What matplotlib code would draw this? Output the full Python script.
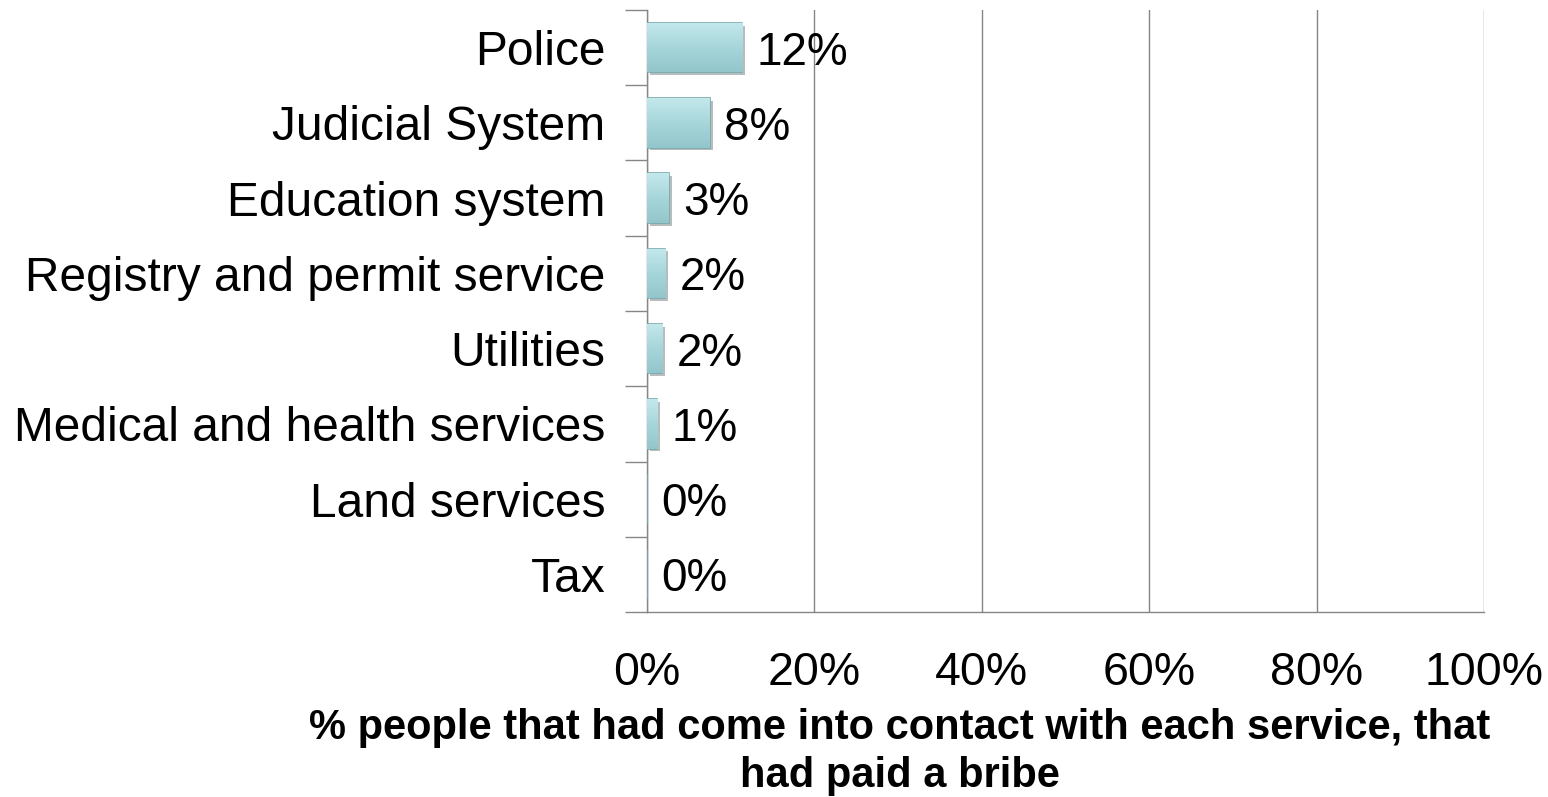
import matplotlib.pyplot as plt
import matplotlib.patheffects as pe
import numpy as np

# data
services = ["Police", "Judicial System", "Education system",
            "Registry and permit service", "Utilities",
            "Medical and health services", "Land services", "Tax"]
bribe_share = [11.4, 7.5, 2.6, 2.2, 1.8, 1.2, 0.0, 0.0]
bar_labels = ["12%", "8%", "3%", "2%", "2%", "1%", "0%", "0%"]
x_ticks = [0, 20, 40, 60, 80, 100]
x_title = "% people that had come into contact with each service, that\nhad paid a bribe"

plt.rcParams['font.family'] = ['Liberation Sans', 'DejaVu Sans']

fig = plt.figure(figsize=(15.48, 7.97), dpi=100)
ax = fig.add_axes([0.418, 0.2321, 0.9587 - 0.418, 0.9875 - 0.2321])

y = np.arange(len(services))
bars = ax.barh(y, bribe_share, height=0.66, color='#A9D9DD',
               edgecolor='#76A9AE', linewidth=1.2, zorder=3)

# soft gradient inside each bar to hint at the bevel look
bevel = plt.matplotlib.colors.LinearSegmentedColormap.from_list(
    'bev', ['#C4E8EC', '#A6D6DA', '#93C6CB'])
grad = np.linspace(0, 1, 64).reshape(-1, 1)
for b in bars:
    b.set_path_effects([pe.SimplePatchShadow(offset=(2, -2), alpha=0.35), pe.Normal()])
    if b.get_width() > 0:
        x0, y0 = b.get_x(), b.get_y()
        w, h = b.get_width(), b.get_height()
        im = ax.imshow(grad, cmap=bevel, extent=[x0, x0 + w, y0 + h, y0],
                       aspect='auto', zorder=3.5)
        im.set_clip_path(b)

for yi, v, lab in zip(y, bribe_share, bar_labels):
    ax.text(v + 1.7, yi, lab, va='center_baseline', ha='left', fontsize=33,
            color='black', zorder=4)

ax.set_xlim(0, 100)
ax.set_ylim(len(services) - 0.5, -0.5)
ax.set_xticks(x_ticks)
ax.set_xticklabels([f"{t}%" for t in x_ticks], fontsize=33.5)
ax.set_yticks(y)
ax.set_yticklabels(services, fontsize=34.5)
ax.tick_params(axis='y', length=0, pad=30)
ax.tick_params(axis='x', length=0, pad=28)

# boundary ticks on the y axis, tick marks under the x axis
ax.set_yticks(np.arange(len(services) + 1) - 0.5, minor=True)
ax.tick_params(axis='y', which='minor', length=16, color='#868686', width=1)
ax.set_xticks(x_ticks, minor=True)
ax.tick_params(axis='x', which='minor', length=14, color='#868686', width=1)

ax.grid(axis='x', color='#868686', linewidth=1, zorder=0)
for s in ['top', 'right']:
    ax.spines[s].set_visible(False)
for s in ['left', 'bottom']:
    ax.spines[s].set_color('#868686')
    ax.spines[s].set_linewidth(1)

fig.text(900 / 1548, 1 - 708 / 797, x_title, fontsize=30, fontweight='bold',
         ha='center', va='top', linespacing=1.25)

fig.savefig("out.png", dpi=100)
